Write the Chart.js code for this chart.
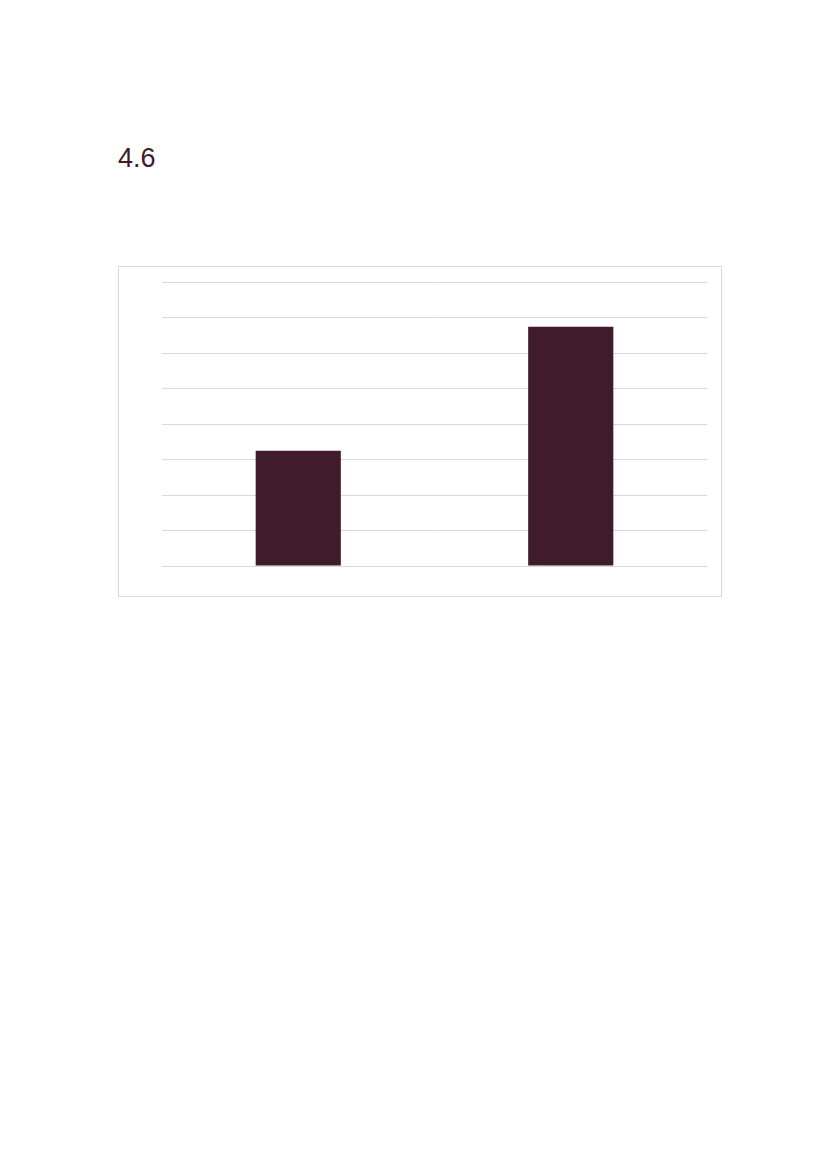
<!DOCTYPE html>
<html>
<head>
<meta charset="utf-8">
<script src="https://cdn.jsdelivr.net/npm/chart.js@4/dist/chart.umd.min.js"></script>
<style>
  html, body { margin: 0; padding: 0; background: #ffffff; }
  body { width: 827px; height: 1169px; position: relative; }
  #title {
    position: absolute; left: 118px; top: 145px;
    font-family: "Liberation Sans", Arial, sans-serif;
    font-size: 27px; line-height: 27px; color: #3f1b2b;
  }
  #box {
    position: absolute; left: 118px; top: 266px;
    width: 604px; height: 331px; box-sizing: border-box;
    border: 1px solid #d9d9d9;
  }
  #chart { display: block; }
</style>
</head>
<body>
<div id="title">4.6</div>
<div id="box"><canvas id="chart" width="602" height="329"></canvas></div>
<script>
// Datos del gráfico
const categories = ['A', 'B'];
const values = [3.25, 6.74];
const yTicks = [0, 1, 2, 3, 4, 5, 6, 7, 8];

const barColor = '#401b2b';

document.addEventListener('DOMContentLoaded', () => {
  const ctx = document.getElementById('chart').getContext('2d');
  new Chart(ctx, {
    type: 'bar',
    data: {
      labels: categories,
      datasets: [{
        data: values,
        backgroundColor: barColor,
        borderWidth: 0,
        barPercentage: 0.3125,
        categoryPercentage: 1
      }]
    },
    options: {
      responsive: false,
      animation: false,
      layout: { padding: { left: 43, right: 14, top: 15, bottom: 30 } },
      plugins: { legend: { display: false }, tooltip: { enabled: false } },
      scales: {
        x: { display: false },
        y: {
          min: yTicks[0],
          max: yTicks[yTicks.length - 1],
          afterBuildTicks: axis => { axis.ticks = yTicks.map(v => ({ value: v })); },
          ticks: { display: false },
          border: { display: false },
          grid: { color: '#d9d9d9', lineWidth: 1, drawTicks: false }
        }
      }
    }
  });
});
</script>
</body>
</html>
